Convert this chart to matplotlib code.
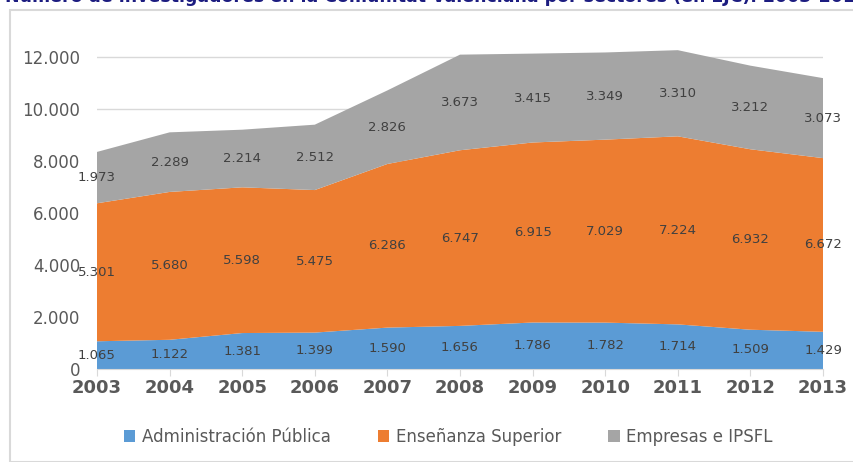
import matplotlib.pyplot as plt
from matplotlib.patches import Rectangle, Patch

years = ['2003', '2004', '2005', '2006', '2007', '2008', '2009', '2010', '2011', '2012', '2013']
admin_publica = [1065, 1122, 1381, 1399, 1590, 1656, 1786, 1782, 1714, 1509, 1429]
ensenanza_sup = [5301, 5680, 5598, 5475, 6286, 6747, 6915, 7029, 7224, 6932, 6672]
empresas_ipsfl = [1973, 2289, 2214, 2512, 2826, 3673, 3415, 3349, 3310, 3212, 3073]

series_names = ['Administración Pública', 'Enseñanza Superior', 'Empresas e IPSFL']
colors = ['#5B9BD5', '#ED7D31', '#A5A5A5']
title = 'Número de investigadores en la Comunitat Valenciana por sectores (en EJC). 2003-2013'


def fmt(v):
    return f'{v:,}'.replace(',', '.')


fig = plt.figure(figsize=(8.54, 4.62), dpi=100)
fig.patches.append(Rectangle((10 / 854, 0), 1, 1 - 10 / 462, transform=fig.transFigure,
                             fill=False, edgecolor='#D9D9D9', linewidth=1.5))
fig.text(5 / 854, 1.008, title, ha='left', va='center', fontsize=12.5,
         fontweight='bold', color='#1C1C80')

ax = fig.add_axes([97 / 854, 1 - 369 / 462, (823 - 97) / 854, (369 - 41) / 462])
x = list(range(len(years)))
series = [admin_publica, ensenanza_sup, empresas_ipsfl]
ax.stackplot(x, *series, colors=colors, zorder=2)

# data labels in the middle of each band
base = [0] * len(x)
for vals in series:
    for i, v in enumerate(vals):
        ax.text(i, base[i] + v / 2, fmt(v), ha='center', va='center',
                fontsize=9.5, color='#404040', zorder=3)
    base = [b + v for b, v in zip(base, vals)]

ax.set_xlim(0, len(x) - 1)
ax.set_ylim(0, 12600)
ax.set_yticks(range(0, 12001, 2000))
ax.set_yticklabels([fmt(t) for t in range(0, 12001, 2000)])
ax.set_xticks(x)
ax.set_xticklabels(years)
ax.grid(axis='y', color='#D9D9D9', linewidth=1, zorder=0)
ax.set_axisbelow(True)
for s in ['top', 'right', 'left']:
    ax.spines[s].set_visible(False)
ax.spines['bottom'].set_color('#D9D9D9')
ax.spines['bottom'].set_zorder(4)
ax.tick_params(axis='y', length=0, labelsize=12, labelcolor='#595959', pad=12)
ax.tick_params(axis='x', length=5, color='#D9D9D9', labelsize=13, labelcolor='#595959', pad=2)
for lbl in ax.get_xticklabels():
    lbl.set_fontweight('bold')

handles = [Patch(facecolor=c, label=n) for c, n in zip(colors, series_names)]
fig.legend(handles=handles, loc='center', bbox_to_anchor=(0.525, 1 - 437 / 462), ncol=3,
           frameon=False, fontsize=12, labelcolor='#595959', handlelength=0.7,
           handleheight=0.7, handletextpad=0.4, columnspacing=2.8)

fig.savefig('out.png', dpi=100)
